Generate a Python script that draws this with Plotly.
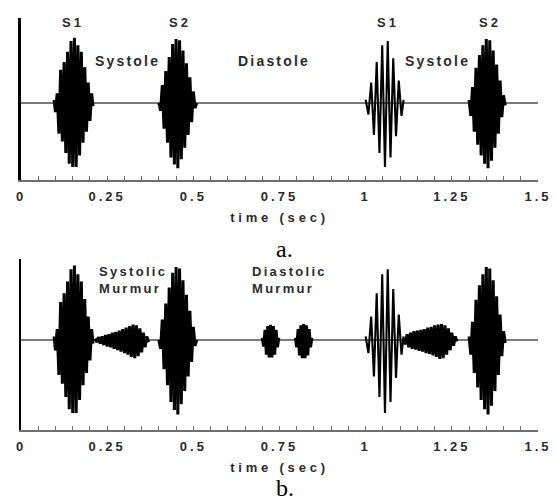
import plotly.graph_objects as go

# ---------------- data ----------------
tick_vals = [0, 0.25, 0.5, 0.75, 1, 1.25, 1.5]
tick_labels = ["0", "0.25", "0.5", "0.75", "1", "1.25", "1.5"]
x_title = "time (sec)"

# first heart sound S1 (0.1 s)
s1_t = [0.096, 0.100, 0.105, 0.110, 0.115, 0.120, 0.125, 0.130, 0.135, 0.140, 0.145, 0.150,
        0.155, 0.160, 0.165, 0.170, 0.175, 0.180, 0.185, 0.190, 0.195, 0.200, 0.205, 0.209]
s1_y = [0.05, -0.14, 0.15, -0.48, 0.52, -0.60, 0.64, -0.78, 0.80, -0.95, 0.97, -1.00,
        1.02, -1.00, 0.90, -0.82, 0.80, -0.62, 0.56, -0.45, 0.32, -0.28, 0.15, -0.05]

# second heart sound S2 (0.45 s)
s2_t = [0.400, 0.405, 0.410, 0.415, 0.420, 0.425, 0.430, 0.435, 0.440, 0.445, 0.450, 0.455,
        0.460, 0.465, 0.470, 0.475, 0.480, 0.485, 0.490, 0.495, 0.500, 0.505, 0.510]
s2_y = [0.00, -0.12, 0.28, -0.40, 0.50, -0.62, 0.72, -0.85, 0.92, -0.96, 1.00, -1.02,
        0.98, -0.88, 0.82, -0.70, 0.62, -0.50, 0.40, -0.30, 0.18, -0.08, 0.00]

# second S1 (1.05 s), lower pitched
s1b_t = [1.000, 1.008, 1.016, 1.024, 1.032, 1.040, 1.048, 1.056, 1.064, 1.072, 1.080, 1.088,
         1.096, 1.104, 1.110]
s1b_y = [0.05, -0.18, 0.32, -0.50, 0.64, -0.78, 0.90, -1.00, 0.97, -0.85, 0.70, -0.52,
         0.35, -0.20, 0.05]

# second S2 (1.35 s)
s2b_t = [1.300, 1.305, 1.310, 1.315, 1.320, 1.325, 1.330, 1.335, 1.340, 1.345, 1.350, 1.355,
         1.360, 1.365, 1.370, 1.375, 1.380, 1.385, 1.390, 1.395, 1.400, 1.405]
s2b_y = [0.05, -0.20, 0.25, -0.45, 0.55, -0.65, 0.75, -0.82, 0.90, -0.95, 1.00, -1.02,
         0.98, -0.90, 0.82, -0.70, 0.60, -0.48, 0.35, -0.22, 0.12, -0.04]

# systolic murmur 1 (panel b)
mur1_t = [0.215, 0.220, 0.225, 0.230, 0.235, 0.240, 0.245, 0.250, 0.255, 0.260, 0.265, 0.270,
          0.275, 0.280, 0.285, 0.290, 0.295, 0.300, 0.305, 0.310, 0.315, 0.320, 0.325, 0.330,
          0.335, 0.340, 0.345, 0.350, 0.355, 0.360, 0.365, 0.370]
mur1_y = [0.02, -0.03, 0.04, -0.05, 0.05, -0.07, 0.07, -0.09, 0.08, -0.10, 0.10, -0.12,
          0.11, -0.14, 0.13, -0.16, 0.15, -0.18, 0.17, -0.20, 0.19, -0.23, 0.21, -0.25,
          0.20, -0.22, 0.16, -0.17, 0.10, -0.10, 0.05, -0.03]

# diastolic murmur bursts (panel b)
dia1_t = [0.700, 0.704, 0.708, 0.712, 0.716, 0.720, 0.724, 0.728, 0.732, 0.736, 0.740, 0.744, 0.748]
dia1_y = [0.03, -0.09, 0.14, -0.20, 0.19, -0.24, 0.21, -0.24, 0.19, -0.20, 0.14, -0.10, 0.03]
dia2_t = [0.796, 0.800, 0.804, 0.808, 0.812, 0.816, 0.820, 0.824, 0.828, 0.832, 0.836, 0.840, 0.844]
dia2_y = [0.03, -0.10, 0.15, -0.21, 0.20, -0.25, 0.22, -0.25, 0.20, -0.21, 0.15, -0.10, 0.03]

# systolic murmur 2 (panel b)
mur2_t = [1.110, 1.115, 1.120, 1.125, 1.130, 1.135, 1.140, 1.145, 1.150, 1.155, 1.160, 1.165,
          1.170, 1.175, 1.180, 1.185, 1.190, 1.195, 1.200, 1.205, 1.210, 1.215, 1.220, 1.225,
          1.230, 1.235, 1.240, 1.245, 1.250, 1.255, 1.260, 1.265]
mur2_y = [0.03, -0.06, 0.08, -0.10, 0.10, -0.12, 0.12, -0.13, 0.13, -0.15, 0.14, -0.16,
          0.15, -0.18, 0.17, -0.19, 0.18, -0.21, 0.20, -0.23, 0.21, -0.26, 0.22, -0.25,
          0.20, -0.20, 0.16, -0.14, 0.10, -0.08, 0.05, -0.02]

DENSE, SPARSE = 3.0, 2.1
panel_a = [(s1_t, s1_y, DENSE), (s2_t, s2_y, DENSE), (s1b_t, s1b_y, SPARSE), (s2b_t, s2b_y, DENSE)]
panel_b = [(s1_t, s1_y, DENSE), (mur1_t, mur1_y, DENSE), (s2_t, s2_y, DENSE),
           (dia1_t, dia1_y, DENSE), (dia2_t, dia2_y, DENSE),
           (s1b_t, s1b_y, SPARSE), (mur2_t, mur2_y, DENSE), (s2b_t, s2b_y, DENSE)]

# text labels: (text, x, y)
labels_a = [("S1", 0.151, 1.25), ("S2", 0.461, 1.25), ("S1", 1.065, 1.25), ("S2", 1.361, 1.25),
            ("Systole", 0.31, 0.66), ("Diastole", 0.735, 0.66), ("Systole", 1.207, 0.66)]
labels_b = [("Systolic<br>Murmur", 0.221, 0.82), ("Diastolic<br>Murmur", 0.664, 0.82)]

# ---------------- figure ----------------
W, H = 556, 503
FONT = "Liberation Sans, Arial, sans-serif"
SERIF = "Liberation Serif, Times New Roman, serif"
TXT = "#2a2a2a"


def spaced(s, px):
    return f'<span style="letter-spacing:{px}px">{s}</span>'


def bold(s):
    return f"<b>{s}</b>"


fig = go.Figure()
for t, y, w in panel_a:
    fig.add_trace(go.Scatter(x=t, y=y, mode="lines", line=dict(color="black", width=w),
                             xaxis="x", yaxis="y", showlegend=False, hoverinfo="skip"))
for t, y, w in panel_b:
    fig.add_trace(go.Scatter(x=t, y=y, mode="lines", line=dict(color="black", width=w),
                             xaxis="x2", yaxis="y2", showlegend=False, hoverinfo="skip"))

xdom = [21 / W, 538 / W]


def xaxis_cfg(anchor):
    return dict(
        domain=xdom, range=[0, 1.5], anchor=anchor, automargin=False,
        showline=True, linecolor="#6e6e6e", linewidth=1.5,
        ticks="inside", ticklen=4, tickwidth=1, tickcolor="#6e6e6e",
        tickvals=tick_vals, ticktext=[bold(spaced(s, 3)) for s in tick_labels],
        tickfont=dict(family=FONT, size=13, color=TXT), ticklabelstandoff=4,
        minor=dict(dtick=0.05, tick0=0, ticks="inside", ticklen=4, tickcolor="#6e6e6e", showgrid=False),
        showgrid=False, zeroline=False, fixedrange=True,
        title=dict(text=bold(spaced(x_title, 3.8)), font=dict(family=FONT, size=13, color=TXT), standoff=10),
    )


def yaxis_cfg(anchor, dom, rng, lw):
    return dict(
        domain=dom, range=rng, anchor=anchor, automargin=False,
        showline=True, linecolor="black", linewidth=lw,
        ticks="", showticklabels=False, showgrid=False,
        zeroline=True, zerolinecolor="#7a7a7a", zerolinewidth=1.5, fixedrange=True,
    )


fig.update_layout(
    width=W, height=H, autosize=False,
    margin=dict(l=0, r=0, t=0, b=0, pad=0, autoexpand=False),
    paper_bgcolor="white", plot_bgcolor="white", showlegend=False,
    xaxis=xaxis_cfg("y"),
    yaxis=yaxis_cfg("x", [1 - 180 / H, 1 - 18 / H], [-1.203, 1.328], 2.6),
    xaxis2=xaxis_cfg("y2"),
    yaxis2=yaxis_cfg("x2", [1 - 430 / H, 1 - 259 / H], [-1.233, 1.11], 2.0),
)

annots = []
for txt, x, y in labels_a:
    if len(txt) == 2:
        sz, sp = 13, 3
    else:
        sz, sp = 14, 2.2
    annots.append(dict(text=bold(spaced(txt, sp)), x=x, y=y, xref="x", yref="y", showarrow=False,
                       font=dict(family=FONT, size=sz, color=TXT)))
for txt, x, y in labels_b:
    annots.append(dict(text=bold(spaced(txt, 2.3)), x=x, y=y, xref="x2", yref="y2", showarrow=False,
                       xanchor="left", align="left",
                       font=dict(family=FONT, size=13, color=TXT)))
annots.append(dict(text="a.", x=284 / W, y=1 - 249 / H, xref="paper", yref="paper", showarrow=False,
                   xanchor="center", yanchor="middle",
                   font=dict(family=SERIF, size=24, color="black")))
annots.append(dict(text="b.", x=285 / W, y=1 - 488 / H, xref="paper", yref="paper", showarrow=False,
                   xanchor="center", yanchor="middle",
                   font=dict(family=SERIF, size=24, color="black")))
fig.update_layout(annotations=annots)

fig.write_html("out.html", config={"displayModeBar": False},
               post_script="document.body.style.margin='0';document.body.style.overflow='hidden';")
